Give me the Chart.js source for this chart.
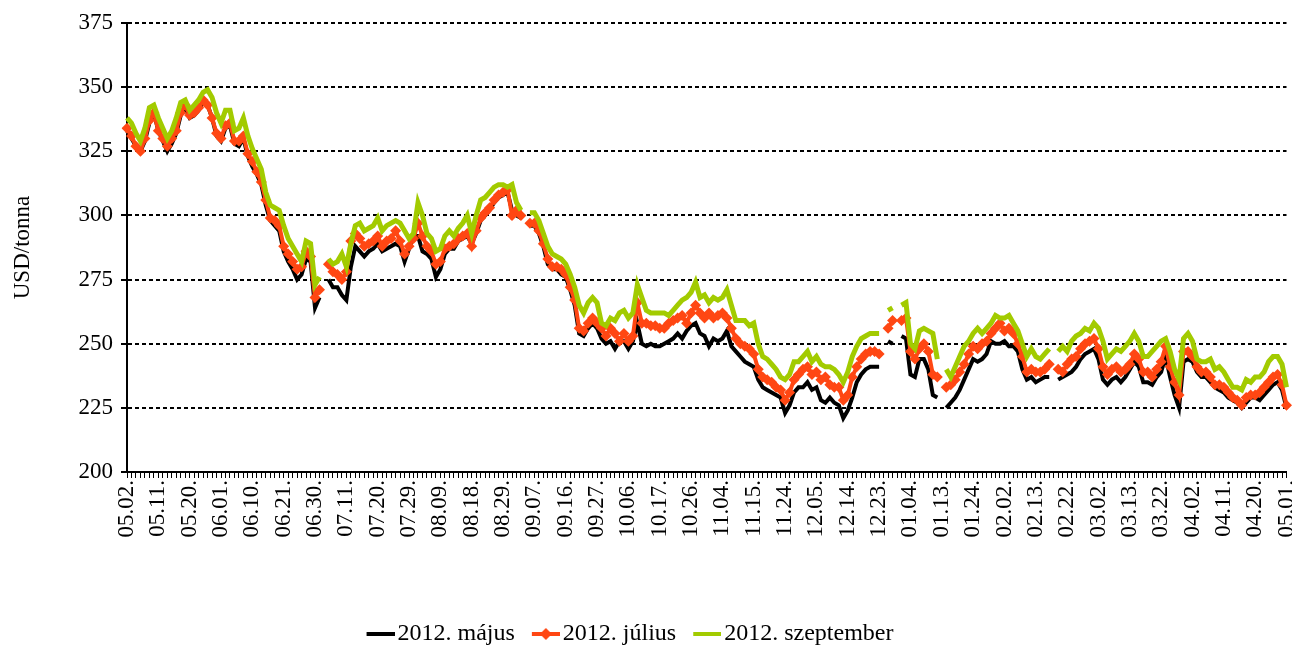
<!DOCTYPE html>
<html lang="hu">
<head>
    <meta charset="UTF-8">
    <title>Kukorica határidős árak (USD/tonna)</title>
    <script src="https://cdn.jsdelivr.net/npm/chart.js"></script>
    <style>
        html, body { margin: 0; padding: 0; background: #ffffff; }
        canvas { display: block; }
    </style>
</head>
<body>
    <canvas id="priceChart" width="1292" height="648"></canvas>
    <script>
        // trading days 2011.05.02 - 2012.05.01 (weekdays, two days missing from the source)
        const skippedDays = ['2011-05-30', '2012-01-02'];

        // labels that are written under the axis (every 7th day)
        const tickLabels = ['05.02.', '05.11.', '05.20.', '06.01.', '06.10.', '06.21.', '06.30.', '07.11.', '07.20.', '07.29.',
            '08.09.', '08.18.', '08.29.', '09.07.', '09.16.', '09.27.', '10.06.', '10.17.', '10.26.', '11.04.',
            '11.15.', '11.24.', '12.05.', '12.14.', '12.23.', '01.04.', '01.13.', '01.24.', '02.02.', '02.13.',
            '02.22.', '03.02.', '03.13.', '03.22.', '04.02.', '04.11.', '04.20.', '05.01.'];

        const seriesNames = ['2012. május', '2012. július', '2012. szeptember'];

        // USD/tonna, one row = 7 trading days
        const may2012 = [
            333, 330, 327, 325, 329, 336, 340,
            333, 329, 325, 328, 332, 339, 342,
            338, 339, 341, 344, 343, 338, 331,
            329, 334, 335, 328, 327, 330, 323,
            319, 316, 312, 304, 298, 296, 294,
            286, 282, 279, 275, 277, 283, 282,
            264, 268, null, 275, 272, 272, 269,
            267, 280, 288, 286, 284, 286, 287,
            289, 286, 287, 288, 289, 288, 282,
            287, 292, 292, 286, 285, 283, 276,
            279, 285, 287, 287, 290, 291, 292,
            289, 293, 298, 300, 302, 305, 307,
            308, 309, 302, 300, 299, null, 296,
            296, 293, 288, 281, 279, 279, 277,
            276, 271, 265, 254, 253, 256, 258,
            256, 252, 250, 251, 248, 251, 251,
            248, 251, 258, 250, 249, 250, 249,
            249, 250, 251, 252, 254, 252, 255,
            257, 258, 254, 253, 249, 252, 251,
            252, 255, 249, 247, 245, 243, 242,
            241, 236, 233, 232, 231, 230, 229,
            223, 226, 231, 233, 233, 235, 232,
            233, 228, 227, 229, 227, 226, 221,
            224, 229, 235, 238, 240, 241, 241,
            241, null, 251, 250, null, 253, 252,
            238, 237, 244, 244, 240, 230, 229,
            null, 225, 227, 229, 232, 236, 240,
            244, 243, 244, 246, 251, 250, 250,
            251, 249, 249, 247, 240, 236, 237,
            235, 236, 237, 237, null, 236, 237,
            238, 239, 241, 244, 246, 247, 248,
            244, 236, 234, 236, 237, 235, 237,
            240, 243, 241, 235, 235, 234, 237,
            239, 245, 237, 230, 225, 243, 244,
            243, 239, 237, 237, 235, 233, 232,
            231, 229, 228, 227, 225, 227, 229,
            229, 228, 230, 232, 234, 235, 232,
            225
        ];

        const jul2012 = [
            334, 331, 327, 325, 330, 337, 340,
            333, 330, 327, 330, 333, 340, 343,
            339, 340, 342, 345, 343, 338, 332,
            330, 335, 336, 329, 329, 331, 324,
            321, 317, 313, 306, 299, 298, 296,
            288, 285, 282, 279, 280, 286, 284,
            268, 271, null, 281, 278, 277, 275,
            278, 290, 293, 291, 288, 289, 290,
            292, 288, 290, 291, 294, 290, 285,
            288, 291, 297, 292, 288, 286, 281,
            282, 287, 288, 289, 291, 292, 293,
            288, 294, 299, 301, 303, 306, 308,
            309, 310, 300, 302, 300, null, 297,
            297, 294, 289, 283, 280, 280, 279,
            277, 272, 267, 256, 255, 258, 260,
            258, 256, 253, 256, 254, 251, 254,
            251, 253, 266, 258, 258, 257, 257,
            256, 256, 258, 259, 260, 261, 258,
            262, 265, 262, 260, 262, 260, 261,
            262, 260, 256, 252, 250, 249, 248,
            246, 240, 237, 236, 235, 233, 232,
            228, 231, 236, 238, 240, 241, 238,
            239, 236, 237, 234, 233, 233, 228,
            230, 237, 241, 244, 246, 247, 247,
            246, null, 256, 259, null, 259, 260,
            247, 244, 248, 250, 247, 238, 237,
            null, 233, 234, 236, 239, 242, 246,
            249, 248, 250, 251, 254, 256, 258,
            255, 256, 254, 250, 245, 239, 240,
            239, 239, 240, 242, null, 240, 239,
            242, 244, 245, 248, 250, 251, 252,
            248, 241, 238, 240, 241, 239, 240,
            242, 246, 244, 239, 239, 237, 240,
            243, 249, 241, 235, 230, 247, 247,
            245, 241, 239, 239, 237, 234, 234,
            233, 231, 229, 228, 226, 229, 230,
            230, 231, 233, 235, 237, 238, 234,
            226
        ];

        const sep2012 = [
            338, 336, 332, 329, 334, 342, 343,
            338, 334, 330, 333, 338, 344, 345,
            341, 343, 345, 348, 349, 346, 340,
            336, 341, 341, 333, 334, 338, 331,
            326, 322, 318, 309, 304, 303, 302,
            296, 291, 288, 285, 282, 290, 289,
            273, 276, null, 283, 281, 282, 285,
            280, 289, 296, 297, 294, 295, 296,
            299, 294, 296, 297, 298, 297, 294,
            291, 293, 305, 300, 293, 291, 286,
            287, 292, 294, 292, 295, 297, 300,
            293, 300, 306, 307, 309, 311, 312,
            312, 311, 312, 305, 302, null, 301,
            301, 298, 293, 288, 285, 284, 283,
            281, 277, 272, 265, 262, 266, 268,
            266, 258, 257, 260, 259, 262, 263,
            260, 262, 273, 268, 263, 262, 262,
            262, 262, 261, 263, 265, 267, 268,
            270, 274, 268, 269, 266, 268, 267,
            268, 271, 265, 259, 259, 259, 257,
            258, 250, 245, 244, 242, 240, 237,
            236, 238, 243, 243, 245, 247, 243,
            245, 242, 241, 241, 240, 238, 235,
            239, 245, 249, 252, 253, 254, 254,
            254, null, 263, 264, null, 265, 266,
            250, 248, 255, 256, 255, 254, 244,
            null, 240, 237, 241, 245, 249, 251,
            254, 256, 254, 256, 258, 261, 260,
            260, 261, 258, 255, 250, 245, 248,
            245, 244, 246, 248, null, 247, 249,
            247, 251, 253, 254, 256, 255, 258,
            256, 251, 244, 246, 248, 247, 249,
            251, 254, 251, 245, 245, 247, 249,
            251, 252, 247, 240, 236, 252, 254,
            251, 244, 243, 243, 244, 240, 241,
            239, 236, 233, 233, 232, 236, 235,
            237, 237, 239, 243, 245, 245, 242,
            233
        ];

        const colors = ['#000000', '#ff4713', '#a2cb00'];
        const fontFamily = '"Liberation Serif", "Times New Roman", serif';

        function buildDays() {
            const days = [];
            const d = new Date(Date.UTC(2011, 4, 2));
            const end = Date.UTC(2012, 4, 1);
            while (d.getTime() <= end) {
                const wd = d.getUTCDay();
                const iso = d.toISOString().slice(0, 10);
                if (wd !== 0 && wd !== 6 && !skippedDays.includes(iso)) {
                    days.push(iso.slice(5, 7) + '.' + iso.slice(8, 10) + '.');
                }
                d.setUTCDate(d.getUTCDate() + 1);
            }
            return days;
        }

        // line (+ diamond) pictures for the legend; the line sits in the right part
        // so it ends just before the legend text
        function legendIcon(color, diamond) {
            const c = document.createElement('canvas');
            c.width = 46;
            c.height = 14;
            const g = c.getContext('2d');
            g.strokeStyle = color;
            g.lineWidth = 4;
            g.beginPath();
            g.moveTo(18, 7);
            g.lineTo(46, 7);
            g.stroke();
            if (diamond) {
                g.fillStyle = color;
                g.beginPath();
                g.moveTo(32, 1);
                g.lineTo(38, 7);
                g.lineTo(32, 13);
                g.lineTo(26, 7);
                g.closePath();
                g.fill();
            }
            return c;
        }

        const labels = buildDays();
        const icons = [legendIcon(colors[0], false), legendIcon(colors[1], true), legendIcon(colors[2], false)];

        Chart.defaults.color = '#000';
        Chart.defaults.font.family = fontFamily;

        // nudge the legend a little to the left, like in the original
        const legendShift = {
            id: 'legendShift',
            afterLayout(chart) {
                chart.legend.left -= 18;
                chart.legend.right -= 18;
            }
        };

        const ctx = document.getElementById('priceChart').getContext('2d');
        const priceChart = new Chart(ctx, {
            type: 'line',
            data: {
                labels: labels,
                datasets: [{
                    label: seriesNames[0],
                    data: may2012,
                    borderColor: colors[0],
                    backgroundColor: colors[0],
                    borderWidth: 4,
                    pointRadius: 0,
                    order: 2
                }, {
                    label: seriesNames[1],
                    data: jul2012,
                    borderColor: colors[1],
                    backgroundColor: colors[1],
                    borderWidth: 4,
                    pointStyle: 'rectRot',
                    pointRadius: 5.5,
                    pointBorderWidth: 0,
                    pointBackgroundColor: colors[1],
                    order: 1
                }, {
                    label: seriesNames[2],
                    data: sep2012,
                    borderColor: colors[2],
                    backgroundColor: colors[2],
                    borderWidth: 5,
                    pointRadius: 0,
                    order: 0
                }]
            },
            options: {
                responsive: false,
                animation: false,
                layout: {
                    padding: { top: 23, right: 5, left: 0, bottom: -8 }
                },
                scales: {
                    x: {
                        offset: false,
                        grid: {
                            drawOnChartArea: false,
                            color: '#000',
                            tickColor: '#000',
                            tickLength: 6,
                            tickWidth: 1,
                            lineWidth: 1
                        },
                        border: { color: '#000', width: 2 },
                        ticks: {
                            autoSkip: false,
                            minRotation: 90,
                            maxRotation: 90,
                            padding: 2,
                            font: { size: 23 },
                            callback: function(value) {
                                const lab = this.getLabelForValue(value);
                                return tickLabels.includes(lab) ? lab : '';
                            }
                        },
                        afterFit: function(scale) {
                            scale.height = 142;
                            scale.paddingLeft = 0;
                            scale.paddingRight = 0;
                        }
                    },
                    y: {
                        min: 200,
                        max: 375,
                        grid: {
                            color: '#000',
                            lineWidth: 2,
                            tickLength: 6
                        },
                        border: { color: '#000', width: 2, dash: [4, 3] },
                        ticks: {
                            stepSize: 25,
                            padding: 8,
                            font: { size: 23 }
                        },
                        title: {
                            display: true,
                            text: 'USD/tonna',
                            font: { size: 23 },
                            padding: { top: 9, bottom: 0 }
                        },
                        afterFit: function(scale) {
                            scale.width = 127;
                        }
                    }
                },
                plugins: {
                    tooltip: { enabled: false },
                    legend: {
                        position: 'bottom',
                        labels: {
                            usePointStyle: true,
                            pointStyleWidth: 28,
                            padding: 8,
                            font: { size: 24 },
                            generateLabels: function(chart) {
                                return chart.data.datasets.map((ds, i) => ({
                                    text: ds.label,
                                    pointStyle: icons[i],
                                    fillStyle: ds.borderColor,
                                    strokeStyle: ds.borderColor,
                                    lineWidth: 0,
                                    hidden: false,
                                    datasetIndex: i
                                }));
                            }
                        }
                    }
                }
            },
            plugins: [legendShift]
        });
    </script>
</body>
</html>
